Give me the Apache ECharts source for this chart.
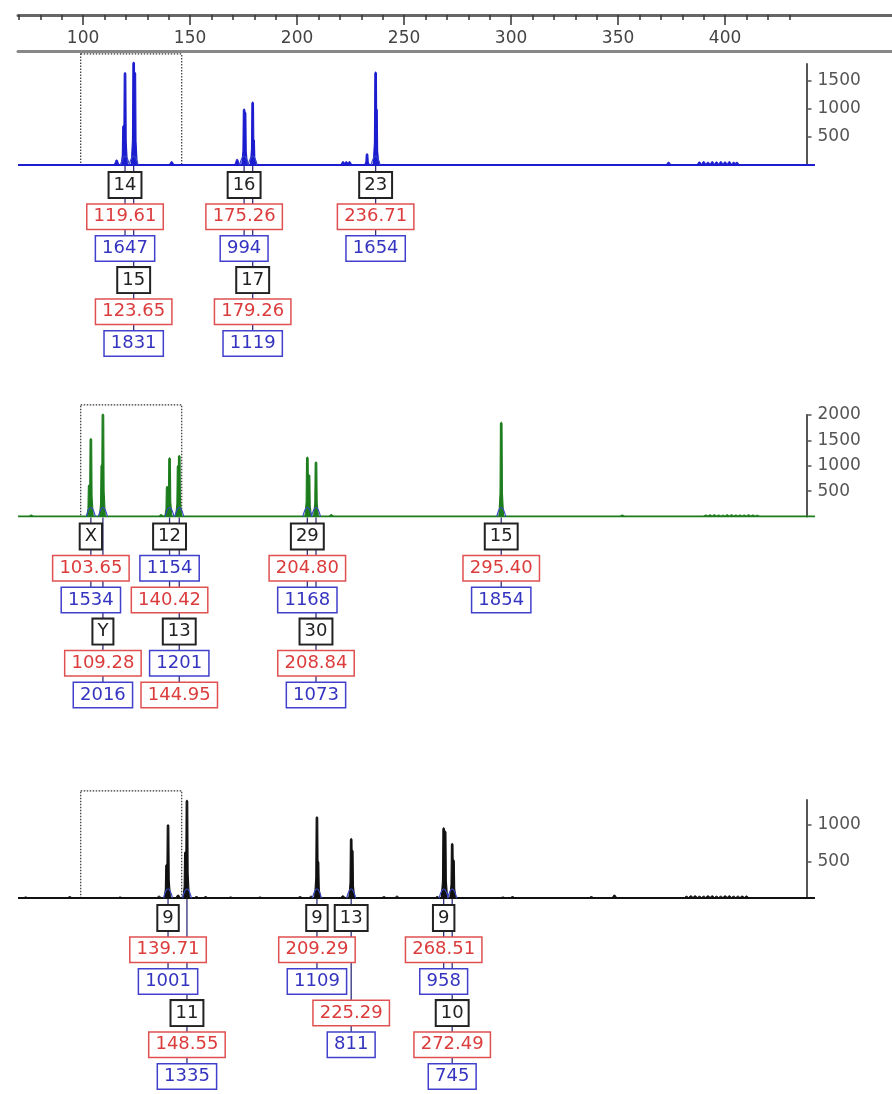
<!DOCTYPE html>
<html><head><meta charset="utf-8">
<script src="https://cdn.jsdelivr.net/npm/echarts@6/dist/echarts.min.js"></script>
<style>html,body{margin:0;padding:0;background:#fff}#c{width:892px;height:1094px}</style>
</head><body><div id="c"></div>
<script>
// ---------------- data ----------------
const rulerMajor = [100,150,200,250,300,350,400];
const rulerMinor = [70,80,90,100,110,120,130,140,150,160,170,180,190,200,210,220,230,240,250,260,270,280,290,300,310,320,330,340,350,360,370,380,390,400,410,420,430];
const xRange = [69.6, 478];
const baselineRange = [69.6, 442];
const sizeWindow = [98.9, 146.1];

// Panel 1 (blue)
const blueAlleles = ['14','15','16','17','23'];
const blueSizes   = [119.61,123.65,175.26,179.26,236.71];
const blueHeights = [1647,1831,994,1119,1654];
const blueHeightFirst = [false,false,false,false,false];
const blueMinor = [[118.9,700],[124.2,1650],[175.7,940],[179.7,450],[237.1,1000],[115.7,90],[141.4,60],[172,100],[221.5,60],[223,60],[224.5,60],[232.7,200],[373.6,50],[388,55],[390,60],[392,50],[394,60],[396,55],[398,60],[400,55],[402,60],[404,50],[405.5,50]];
const blueTicks = [500,1000,1500];
const blueMax = 1800;
const blueWindowTop = 1980;

// Panel 2 (green)
const greenAlleles = ['X','Y','12','13','29','30','15'];
const greenSizes   = [103.65,109.28,140.42,144.95,204.80,208.84,295.40];
const greenHeights = [1534,2016,1154,1201,1168,1073,1854];
const greenHeightFirst = [false,false,true,true,false,false,false];
const greenMinor = [[102.85,620],[108.75,1016],[139.3,590],[144.4,1000],[205.6,820],[75.8,30],[136.5,40],[216,40],[352,30],[391,30],[393,35],[395,35],[397,30],[399,25],[401,35],[403,35],[405,30],[407,30],[409,30],[411,35],[413,30],[415,25]];
const greenTicks = [500,1000,1500,2000];
const greenMax = 2000;
const greenWindowTop = 2200;

// Panel 3 (black)
const blackAlleles = ['9','11','9','13','9','10'];
const blackSizes   = [139.71,148.55,209.29,225.29,268.51,272.49];
const blackHeights = [1001,1335,1109,811,958,745];
const blackHeightFirst = [false,false,false,false,false,false];
const blackMinor = [[139.0,456],[147.8,630],[209.8,500],[225.8,652],[269.2,913],[273.1,520],[73.2,15],[93.8,20],[117.3,15],[135.5,25],[144.4,40],[153,20],[157.3,20],[169,15],[182.7,15],[201.4,20],[206.6,25],[221.4,30],[240.6,20],[246.7,25],[265.5,20],[296.2,15],[300.7,20],[337.5,20],[348.3,40],[382,25],[384,30],[386,30],[388,25],[390,25],[392,30],[394,30],[396,25],[398,25],[400,30],[402,30],[404,25],[406,25],[408,28],[410,28]];
const blackTicks = [500,1000];
const blackMax = 1340;
const blackWindowTop = 1465;

// ---------------- styling ----------------
const FONT = '"DejaVu Sans", Verdana, sans-serif';
const ROW0 = 20, ROWH = 31.7, GAP = 3;
const panels = [
  {alleles: blueAlleles, sizes: blueSizes, heights: blueHeights, hf: blueHeightFirst, minor: blueMinor, ticks: blueTicks, max: blueMax, wtop: blueWindowTop, color: '#1c1cd0', top: 64, height: 101},
  {alleles: greenAlleles, sizes: greenSizes, heights: greenHeights, hf: greenHeightFirst, minor: greenMinor, ticks: greenTicks, max: greenMax, wtop: greenWindowTop, color: '#1d7d1d', top: 415, height: 101.5},
  {alleles: blackAlleles, sizes: blackSizes, heights: blackHeights, hf: blackHeightFirst, minor: blackMinor, ticks: blackTicks, max: blackMax, wtop: blackWindowTop, color: '#111', top: 800, height: 98}
];
const chart = echarts.init(document.getElementById('c'), null, {renderer: 'canvas'});
function tryOpt(opt, notMerge) {
  try { chart.setOption(opt, notMerge); } catch (e) { console.error(e); }
}

const rulerGrid = {left: 18, right: 0, top: 15, height: 36.5};
const grids = [rulerGrid, rulerGrid, rulerGrid];
const noAxisBits = {axisTick: {show: false}, axisLabel: {show: false}, splitLine: {show: false}};
const xAxes = [
  Object.assign({gridIndex: 0, type: 'value', position: 'top', min: xRange[0], max: xRange[1],
   axisLine: {show: true, onZero: false, lineStyle: {color: '#666', width: 3}}}, noAxisBits,
   {axisTick: {show: true, customValues: rulerMinor, inside: true, length: 5, lineStyle: {color: '#333', width: 1.5}}}),
  {gridIndex: 1, type: 'value', position: 'top', min: xRange[0], max: xRange[1],
   axisLine: {show: false, onZero: false},
   axisTick: {show: true, customValues: rulerMajor, inside: true, length: 10, lineStyle: {color: '#333', width: 1.5}},
   axisLabel: {show: true, customValues: rulerMajor, inside: true, margin: 15, fontSize: 17, color: '#444', fontFamily: FONT},
   splitLine: {show: false}},
  Object.assign({gridIndex: 2, type: 'value', position: 'bottom', min: xRange[0], max: xRange[1],
   axisLine: {show: true, onZero: false, lineStyle: {color: '#888', width: 3}}}, noAxisBits)
];
const yAxes = [0, 1, 2].map(i => ({gridIndex: i, type: 'value', show: false, min: 0, max: 1, splitLine: {show: false}}));

panels.forEach((p, k) => {
  grids.push({left: 18, right: 0, top: p.top, height: p.height});
  xAxes.push(Object.assign({gridIndex: k + 3, type: 'value', min: xRange[0], max: xRange[1], show: false, axisLine: {onZero: false}}, noAxisBits));
  yAxes.push({gridIndex: k + 3, type: 'value', position: 'right', offset: -85.5, min: 0, max: p.max,
    axisLine: {show: true, onZero: false, lineStyle: {color: '#555', width: 2}},
    axisTick: {show: true, customValues: p.ticks, length: 5, lineStyle: {color: '#555', width: 1.5}},
    axisLabel: {show: true, customValues: p.ticks, margin: 11, fontSize: 17, color: '#555', fontFamily: FONT, formatter: v => String(v)},
    splitLine: {show: false}});
});

const baseSeries = [];
panels.forEach((p, k) => {
  const ax = k + 3;
  baseSeries.push({type: 'line', xAxisIndex: ax, yAxisIndex: ax, data: [[baselineRange[0], 0], [baselineRange[1], 0]],
    showSymbol: false, lineStyle: {color: p.color, width: 1.8}, silent: true, z: 2});
  baseSeries.push({type: 'custom', xAxisIndex: ax, yAxisIndex: ax, silent: true, z: 1, clip: false,
    data: [[sizeWindow[0], sizeWindow[1], p.wtop]],
    renderItem: (params, api) => {
      const a = api.coord([api.value(0), api.value(2)]);
      const b = api.coord([api.value(1), 0]);
      return {type: 'rect', shape: {x: a[0], y: a[1], width: b[0] - a[0], height: b[1] - a[1]},
        style: {fill: null, stroke: '#333', lineWidth: 1.2, lineDash: [1.5, 1.5]}};
    }});
  const peakData = p.sizes.map((s, i) => [s, p.heights[i]]).concat(p.minor);
  baseSeries.push({type: 'custom', xAxisIndex: ax, yAxisIndex: ax, silent: true, z: 3, clip: false,
    data: peakData,
    renderItem: (params, api) => {
      const b = api.coord([api.value(0), 0]);
      const t = api.coord([api.value(0), api.value(1)]);
      const hp = b[1] - t[1];
      if (hp < 8) {
        return {type: 'polygon', shape: {points: [[b[0] - 2.5, b[1]], [b[0] - 0.6, t[1]], [b[0] + 0.6, t[1]], [b[0] + 2.5, b[1]]]},
          style: {fill: p.color, stroke: p.color, lineWidth: 0.8}};
      }
      const pts = [[b[0] - 2.4, b[1]], [b[0] - 1.2, b[1] - hp * 0.25], [b[0] - 0.8, t[1] + 1], [b[0], t[1]],
                   [b[0] + 0.8, t[1] + 1], [b[0] + 1.2, b[1] - hp * 0.25], [b[0] + 2.4, b[1]]];
      return {type: 'polygon', shape: {points: pts}, style: {fill: p.color, stroke: p.color, lineWidth: 1.1}};
    }});
});

tryOpt({animation: false, backgroundColor: '#fff', grid: grids, xAxis: xAxes, yAxis: yAxes, series: []}, true);
tryOpt({series: baseSeries});

// ---------------- label stacks layout ----------------
const ctx = document.createElement('canvas').getContext('2d');
ctx.font = '18px ' + FONT;
const kinds = {
  name: {color: '#222', border: '#222', bw: 2, pad: 4},
  size: {color: '#dc3c3c', border: '#e05050', bw: 1.5, pad: 6},
  height: {color: '#3434c0', border: '#4040cc', bw: 1.5, pad: 6}
};
const labelSeries = [];
panels.forEach((p, k) => {
  const ax = k + 3;
  const rows = [];
  const boxes = [], boxInfo = [], stacks = [];
  p.sizes.forEach((s, i) => {
    const px = chart.convertToPixel({xAxisIndex: ax, yAxisIndex: ax}, [s, 0])[0];
    const items = [{text: p.alleles[i], kind: 'name'}];
    const sz = {text: s.toFixed(2), kind: 'size'};
    const ht = {text: String(p.heights[i]), kind: 'height'};
    if (p.hf[i]) items.push(ht, sz); else items.push(sz, ht);
    let minRow = 0, last = 0;
    items.forEach(it => {
      const kd = kinds[it.kind];
      const w = ctx.measureText(it.text).width + 2 * kd.pad + kd.bw;
      const l = px - w / 2 - GAP, r = px + w / 2 + GAP;
      let row = minRow;
      while (rows[row] && rows[row].some(iv => iv[0] < r && iv[1] > l)) row++;
      (rows[row] = rows[row] || []).push([px - w / 2, px + w / 2]);
      boxes.push([s, row, boxInfo.length]);
      boxInfo.push(it);
      minRow = row + 1; last = row;
    });
    stacks.push([s, last]);
  });
  labelSeries.push({type: 'custom', xAxisIndex: ax, yAxisIndex: ax, silent: true, z: 4, clip: false,
    data: stacks,
    renderItem: (params, api) => {
      const b = api.coord([api.value(0), 0]);
      const yEnd = b[1] + ROW0 + ROWH * api.value(1);
      return {type: 'group', children: [
        {type: 'line', shape: {x1: b[0], y1: b[1] + 1, x2: b[0], y2: yEnd}, style: {stroke: '#30307a', lineWidth: 1.3}},
        {type: 'bezierCurve', shape: {x1: b[0] - 4.5, y1: b[1], x2: b[0] + 4.5, y2: b[1], cpx1: b[0], cpy1: b[1] - 18},
          style: {stroke: '#3a48c8', lineWidth: 1.2, fill: null}}
      ]};
    }});
  labelSeries.push({type: 'custom', xAxisIndex: ax, yAxisIndex: ax, silent: true, z: 5, clip: false,
    data: boxes,
    renderItem: (params, api) => {
      const b = api.coord([api.value(0), 0]);
      const info = boxInfo[api.value(2)];
      const kd = kinds[info.kind];
      const y = b[1] + ROW0 + ROWH * api.value(1);
      return {type: 'text', x: b[0], y: y,
        style: {text: info.text, fontSize: 18, fontFamily: FONT, fill: kd.color, align: 'center', verticalAlign: 'middle',
          backgroundColor: '#fff', borderColor: kd.border, borderWidth: kd.bw, padding: [3, kd.pad, 3, kd.pad]}};
    }});
});

tryOpt({series: baseSeries.concat(labelSeries)});
</script>
</body></html>
